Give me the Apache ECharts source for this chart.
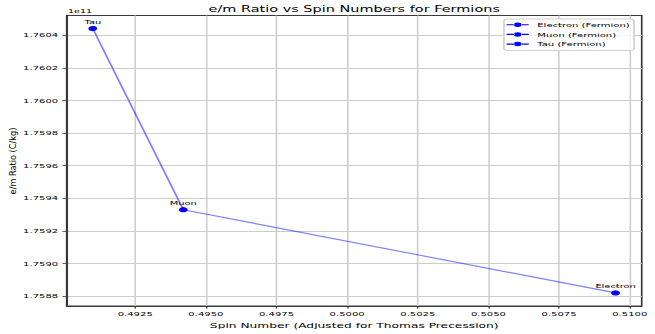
<!DOCTYPE html>
<html>
<head>
<meta charset="utf-8">
<script src="https://cdn.jsdelivr.net/npm/echarts@6/dist/echarts.min.js"></script>
<style>
  html, body { margin: 0; padding: 0; background: #ffffff; }
  #wrap { width: 655px; height: 334px; overflow: hidden; position: relative; }
  /* the figure is drawn narrow and stretched horizontally */
  #chart { width: 385px; height: 334px; transform-origin: 0 0; }
</style>
</head>
<body>
<div id="wrap"><div id="chart"></div></div>
<script>
// Particles and their measured values
const particles = ['Electron', 'Muon', 'Tau'];
const legendNames = ['Electron (Fermion)', 'Muon (Fermion)', 'Tau (Fermion)'];
const spinNumbers = [0.5095, 0.4942, 0.4910];
const emRatios = [1.75882e11, 1.75933e11, 1.76044e11];

// Axis ticks
const xTicks = [0.4925, 0.4950, 0.4975, 0.5000, 0.5025, 0.5050, 0.5075, 0.5100];
const yTicks = [1.7588e11, 1.7590e11, 1.7592e11, 1.7594e11, 1.7596e11, 1.7598e11, 1.7600e11, 1.7602e11, 1.7604e11];
const yOffsetText = '1e11';
const yScale = 1e11;

const STRETCH = 655 / 385;
document.getElementById('chart').style.transform = 'scaleX(' + STRETCH + ')';

const FONT = 'DejaVu Sans';
const BLUE = '#0000ff';

// 5% padding around the data range on both axes
function padded(vals) {
  const lo = Math.min.apply(null, vals), hi = Math.max.apply(null, vals);
  const m = (hi - lo) * 0.05;
  return [lo - m, hi + m];
}
const xRange = padded(spinNumbers);
const yRange = padded(emRatios);

// Legend handle: short line with a dot in the middle
const handleIcon = 'path://M0 3.4H9.2V5.6H0Z M16.8 3.4H26V5.6H16.8Z M8.5 4.5A4.5 4.5 0 1 0 17.5 4.5A4.5 4.5 0 1 0 8.5 4.5Z';

const grid = { left: 39.2, right: 7.8, top: 15.4, bottom: 26.3 };

const series = [{
  name: 'connect',
  type: 'line',
  data: spinNumbers.map((x, i) => [x, emRatios[i]]),
  showSymbol: false,
  symbol: 'none',
  lineStyle: { color: 'rgba(0,0,255,0.5)', width: 1.1 },
  silent: true,
  z: 2
}];
particles.forEach((p, i) => {
  series.push({
    name: legendNames[i],
    type: 'line',
    data: [[spinNumbers[i], emRatios[i]]],
    symbol: 'circle',
    symbolSize: 5.2,
    showSymbol: true,
    itemStyle: { color: BLUE },
    lineStyle: { color: BLUE, width: 1 },
    label: {
      show: true,
      position: 'top',
      distance: 1.2,
      formatter: p,
      fontFamily: FONT,
      fontSize: 5.8,
      color: '#000'
    },
    z: 3
  });
});

const chart = echarts.init(document.getElementById('chart'), null, { renderer: 'svg' });
chart.setOption({
  animation: false,
  backgroundColor: '#ffffff',
  textStyle: { fontFamily: FONT },
  grid: Object.assign({ show: true, borderColor: '#3a3a3a', borderWidth: 1, backgroundColor: 'transparent' }, grid),
  legend: {
    data: legendNames.map(n => ({ name: n, icon: handleIcon })),
    orient: 'vertical',
    left: 296.2,
    top: 19,
    itemWidth: 13,
    itemHeight: 5,
    itemGap: 3.7,
    padding: [2.7, 2.5, 3.5, 1.6],
    backgroundColor: 'rgba(255,255,255,0.8)',
    borderColor: '#d0d0d0',
    borderWidth: 1,
    borderRadius: 2,
    textStyle: { fontFamily: FONT, fontSize: 5.9, color: '#000', lineHeight: 6, padding: 0 },
    itemStyle: { color: BLUE }
  },
  xAxis: {
    type: 'value',
    min: xRange[0],
    max: xRange[1],
    name: 'Spin Number (Adjusted for Thomas Precession)',
    nameLocation: 'middle',
    nameGap: 14.2,
    nameTextStyle: { fontFamily: FONT, fontSize: 7.2, color: '#000' },
    axisLine: { show: true, onZero: false, lineStyle: { color: '#3a3a3a', width: 1 } },
    axisTick: { show: true, inside: false, length: 2.5, customValues: xTicks, lineStyle: { color: '#3a3a3a', width: 0.8 } },
    axisLabel: { customValues: xTicks, margin: 5, fontFamily: FONT, fontSize: 5.9, color: '#000',
                 formatter: v => v.toFixed(4) },
    splitLine: { show: true, lineStyle: { color: '#cccccc', width: 0.9 } }
  },
  yAxis: {
    type: 'value',
    min: yRange[0],
    max: yRange[1],
    axisLine: { show: true, onZero: false, lineStyle: { color: '#3a3a3a', width: 1 } },
    axisTick: { show: true, inside: false, length: 2.5, customValues: yTicks, lineStyle: { color: '#3a3a3a', width: 0.8 } },
    axisLabel: { customValues: yTicks, margin: 5, fontFamily: FONT, fontSize: 5.9, color: '#000',
                 formatter: v => (v / yScale).toFixed(4) },
    splitLine: { show: true, lineStyle: { color: '#cccccc', width: 1.2 } }
  },
  graphic: [
    {
      type: 'text', x: 208.2, y: 8.7, z: 10,
      style: { text: 'e/m Ratio vs Spin Numbers for Fermions', fontFamily: FONT, fontSize: 8.5, fill: '#000',
               align: 'center', verticalAlign: 'middle', textAlign: 'center', textVerticalAlign: 'middle' }
    },
    {
      type: 'text', x: 40, y: 11.5, z: 10,
      style: { text: yOffsetText, fontFamily: FONT, fontSize: 5.6, fill: '#000',
               align: 'left', verticalAlign: 'middle', textAlign: 'left', textVerticalAlign: 'middle' }
    },
    {
      type: 'text', x: 7.6, y: 161, z: 10, rotation: Math.PI / 2, scaleY: 1 / STRETCH,
      style: { text: 'e/m Ratio (C/kg)', fontFamily: FONT, fontSize: 8.2, fill: '#000',
               align: 'center', verticalAlign: 'middle', textAlign: 'center', textVerticalAlign: 'middle' }
    }
  ],
  series: series
});
</script>
</body>
</html>
